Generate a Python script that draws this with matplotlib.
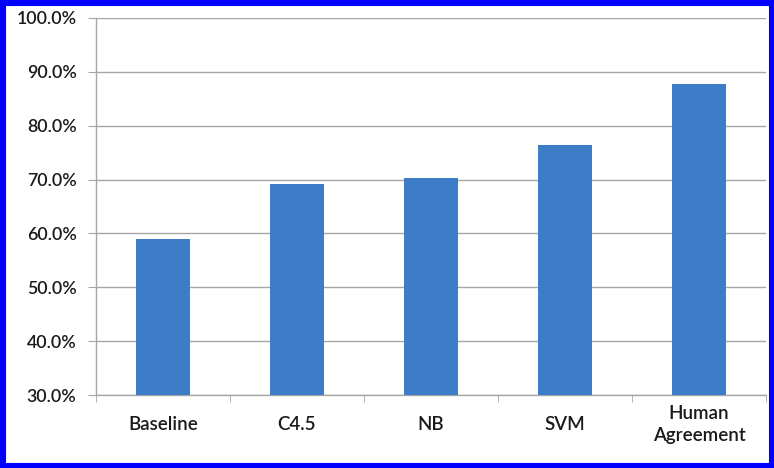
import numpy as np
import matplotlib.pyplot as plt
from matplotlib.patches import Rectangle
from matplotlib.ticker import FuncFormatter, MultipleLocator

plt.rcParams['font.family'] = ['Lato', 'DejaVu Sans']

categories = ['Baseline', 'C4.5', 'NB', 'SVM', 'Human\nAgreement']
accuracy = [58.9, 69.2, 70.3, 76.5, 87.8]

bar_color = '#3d7cc6'
grid_color = '#a6a6a6'

fig = plt.figure(figsize=(7.74, 4.68), dpi=100)
ax = fig.add_axes([96 / 774, 73 / 468, 670 / 774, 377 / 468])

x = np.arange(len(categories))
ax.bar(x, accuracy, width=0.41, color=bar_color, zorder=3)

ax.set_xlim(-0.5, len(categories) - 0.5)
ax.set_ylim(30, 100)
ax.yaxis.set_major_locator(MultipleLocator(10))
ax.yaxis.set_major_formatter(FuncFormatter(lambda v, _: f'{v:.1f}%'))
ax.grid(axis='y', color=grid_color, linewidth=1.0, zorder=0)

# category labels centred, tick marks on the boundaries between them
ax.set_xticks(x)
ax.set_xticklabels(categories, linespacing=1.35, va='center')
ax.set_xticks(np.arange(len(categories) + 1) - 0.5, minor=True)
ax.tick_params(axis='x', which='major', length=0, pad=21.5,
               labelsize=13.5, labelcolor='#1a1a1a')
ax.tick_params(axis='x', which='minor', length=5, color=grid_color)
ax.tick_params(axis='y', length=6, color=grid_color, pad=8,
               labelsize=12.8, labelcolor='#1a1a1a')
for lab in ax.get_xticklabels() + ax.get_yticklabels():
    lab.set_fontweight('semibold')

for side in ['top', 'right']:
    ax.spines[side].set_visible(False)
for side in ['left', 'bottom']:
    ax.spines[side].set_color(grid_color)
    ax.spines[side].set_linewidth(1.0)

# blue frame round the whole figure
fig.patches.append(Rectangle((0, 0), 1, 1, transform=fig.transFigure,
                             fill=False, edgecolor='#0000ff', linewidth=8,
                             zorder=10))

fig.savefig('out.png', dpi=100)
